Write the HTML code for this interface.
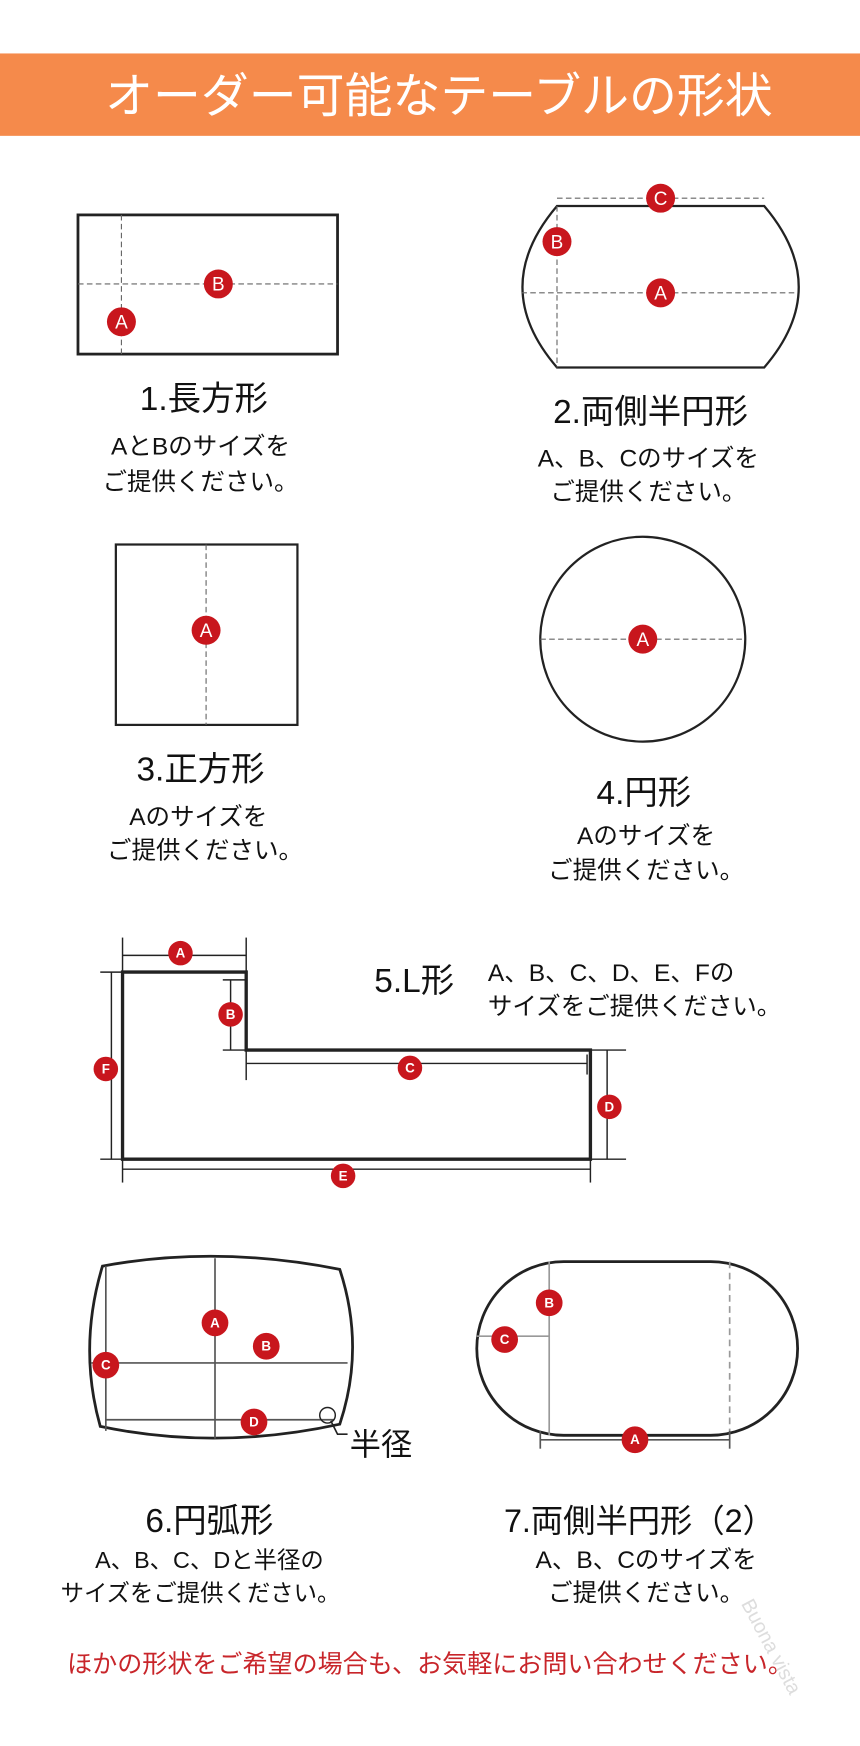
<!DOCTYPE html>
<html><head><meta charset="utf-8"><style>
html,body{margin:0;padding:0;background:#fff;}
svg{display:block;}
text{font-family:"Liberation Sans","Noto Sans CJK JP",sans-serif;}
</style></head><body>
<svg width="860" height="1746" viewBox="0 0 772 1568" preserveAspectRatio="none" xmlns="http://www.w3.org/2000/svg">
<rect x="0" y="48" width="772" height="74" fill="#F58A4B"/>
<text x="394" y="101" font-size="43" fill="#fff" text-anchor="middle">オーダー可能なテーブルの形状</text>

<g fill="none" stroke="#222">
<rect x="70" y="193" width="233" height="125" stroke-width="2.5"/>
<line x1="109" y1="193" x2="109" y2="318" stroke="#666" stroke-dasharray="5,3"/>
<line x1="70" y1="255" x2="303" y2="255" stroke="#666" stroke-dasharray="5,3"/>
<path d="M500 185 L686 185 Q748 258 686 330 L500 330 Q438 258 500 185 Z" stroke-width="2"/>
<line x1="500" y1="178" x2="686" y2="178" stroke="#666" stroke-dasharray="5,3"/>
<line x1="500" y1="185" x2="500" y2="330" stroke="#666" stroke-dasharray="5,3"/>
<line x1="468" y1="263" x2="716" y2="263" stroke="#666" stroke-dasharray="5,3"/>
<rect x="104" y="489" width="163" height="162" stroke-width="2"/>
<line x1="185" y1="489" x2="185" y2="651" stroke="#666" stroke-dasharray="5,3"/>
<circle cx="577" cy="574" r="92" stroke-width="2"/>
<line x1="485" y1="574" x2="669" y2="574" stroke="#666" stroke-dasharray="5,3"/>
<path d="M110 873 L221 873 L221 943 L530 943 L530 1041 L110 1041 Z" stroke-width="3"/>
<g stroke-width="1.3">
<line x1="110" y1="858" x2="221" y2="858"/><line x1="110" y1="842" x2="110" y2="873"/><line x1="221" y1="842" x2="221" y2="873"/>
<line x1="100" y1="873" x2="100" y2="1041"/><line x1="90" y1="873" x2="110" y2="873"/><line x1="90" y1="1041" x2="110" y2="1041"/>
<line x1="207" y1="880" x2="207" y2="943"/><line x1="200" y1="880" x2="221" y2="880"/><line x1="200" y1="943" x2="221" y2="943"/>
<line x1="221" y1="955" x2="527" y2="955"/><line x1="221" y1="943" x2="221" y2="970"/><line x1="527" y1="947" x2="527" y2="965"/>
<line x1="545" y1="943" x2="545" y2="1041"/><line x1="530" y1="943" x2="562" y2="943"/><line x1="530" y1="1041" x2="562" y2="1041"/>
<line x1="110" y1="1050" x2="530" y2="1050"/><line x1="110" y1="1041" x2="110" y2="1062"/><line x1="530" y1="1041" x2="530" y2="1062"/>
</g>
<path d="M92 1137 Q195 1118 305 1140 Q328 1210 305 1279 Q195 1303 90 1281 Q70 1210 92 1137 Z" stroke-width="2.5"/>
<line x1="193" y1="1130" x2="193" y2="1292" stroke="#555" stroke-width="1.5"/>
<line x1="82" y1="1224" x2="312" y2="1224" stroke="#555" stroke-width="1.5"/>
<line x1="95" y1="1275" x2="300" y2="1275" stroke="#555" stroke-width="1.5"/>
<line x1="95" y1="1137" x2="95" y2="1285" stroke="#555" stroke-width="1.5"/>
<circle cx="294" cy="1271" r="7" stroke-width="1.3"/>
<path d="M297 1276 L303 1288 L312 1288" stroke-width="1.5"/>
<rect x="428" y="1133" width="288" height="156" rx="78" ry="78" stroke-width="2.5"/>
<line x1="493" y1="1133" x2="493" y2="1289" stroke="#999" stroke-width="1.5"/>
<line x1="655" y1="1133" x2="655" y2="1289" stroke="#999" stroke-width="1.5" stroke-dasharray="6,4"/>
<line x1="428" y1="1200" x2="493" y2="1200" stroke="#999" stroke-width="1.5"/>
<line x1="485" y1="1293" x2="655" y2="1293" stroke="#555" stroke-width="1.5"/>
<line x1="485" y1="1285" x2="485" y2="1301" stroke="#555" stroke-width="1.5"/>
<line x1="655" y1="1285" x2="655" y2="1301" stroke="#555" stroke-width="1.5"/>
</g>

<g font-size="17" fill="#fff" text-anchor="middle">
<circle cx="109" cy="289" r="13" fill="#c8161d"/><text x="109" y="295">A</text>
<circle cx="196" cy="255" r="13" fill="#c8161d"/><text x="196" y="261">B</text>
<circle cx="593" cy="178" r="13" fill="#c8161d"/><text x="593" y="184">C</text>
<circle cx="500" cy="217" r="13" fill="#c8161d"/><text x="500" y="223">B</text>
<circle cx="593" cy="263" r="13" fill="#c8161d"/><text x="593" y="269">A</text>
<circle cx="185" cy="566" r="13" fill="#c8161d"/><text x="185" y="572">A</text>
<circle cx="577" cy="574" r="13" fill="#c8161d"/><text x="577" y="580">A</text>
</g>
<g font-size="12" font-weight="bold" fill="#fff" text-anchor="middle">
<circle cx="162" cy="856" r="11" fill="#c8161d"/><text x="162" y="860">A</text>
<circle cx="207" cy="911" r="11" fill="#c8161d"/><text x="207" y="915">B</text>
<circle cx="95" cy="960" r="11" fill="#c8161d"/><text x="95" y="964">F</text>
<circle cx="368" cy="959" r="11" fill="#c8161d"/><text x="368" y="963">C</text>
<circle cx="547" cy="994" r="11" fill="#c8161d"/><text x="547" y="998">D</text>
<circle cx="308" cy="1056" r="11" fill="#c8161d"/><text x="308" y="1060">E</text>
<circle cx="193" cy="1188" r="12" fill="#c8161d"/><text x="193" y="1192">A</text>
<circle cx="239" cy="1209" r="12" fill="#c8161d"/><text x="239" y="1213">B</text>
<circle cx="95" cy="1226" r="12" fill="#c8161d"/><text x="95" y="1230">C</text>
<circle cx="228" cy="1277" r="12" fill="#c8161d"/><text x="228" y="1281">D</text>
<circle cx="493" cy="1170" r="12" fill="#c8161d"/><text x="493" y="1174">B</text>
<circle cx="453" cy="1203" r="12" fill="#c8161d"/><text x="453" y="1207">C</text>
<circle cx="570" cy="1293" r="12" fill="#c8161d"/><text x="570" y="1297">A</text>
</g>

<g fill="#111" text-anchor="middle">
<text x="183" y="368" font-size="30">1.長方形</text>
<text x="180" y="408" font-size="22">AとBのサイズを</text>
<text x="180" y="440" font-size="22">ご提供ください。</text>
<text x="584" y="380" font-size="30">2.両側半円形</text>
<text x="582" y="419" font-size="22">A、B、Cのサイズを</text>
<text x="582" y="449" font-size="22">ご提供ください。</text>
<text x="180" y="701" font-size="30">3.正方形</text>
<text x="178" y="741" font-size="22">Aのサイズを</text>
<text x="184" y="771" font-size="22">ご提供ください。</text>
<text x="578" y="722" font-size="30">4.円形</text>
<text x="580" y="758" font-size="22">Aのサイズを</text>
<text x="580" y="789" font-size="22">ご提供ください。</text>
<text x="188" y="1376" font-size="30">6.円弧形</text>
<text x="188" y="1408" font-size="21">A、B、C、Dと半径の</text>
<text x="180" y="1438" font-size="21">サイズをご提供ください。</text>
<text x="574" y="1376" font-size="29">7.両側半円形（2）</text>
<text x="580" y="1408" font-size="22">A、B、Cのサイズを</text>
<text x="580" y="1438" font-size="22">ご提供ください。</text>
</g>
<text x="336" y="891" font-size="30" fill="#111">5.L形</text>
<text x="438" y="881" font-size="22" fill="#111">A、B、C、D、E、Fの</text>
<text x="438" y="911" font-size="22" fill="#111">サイズをご提供ください。</text>
<text x="314" y="1307" font-size="28" fill="#111">半径</text>
<text x="386" y="1502" font-size="22.5" fill="#c8252a" text-anchor="middle">ほかの形状をご希望の場合も、お気軽にお問い合わせください。</text>
<text x="0" y="0" font-size="18" fill="#ddd" transform="translate(665,1440) rotate(62)">Buona vista</text>
</svg>
</body></html>
